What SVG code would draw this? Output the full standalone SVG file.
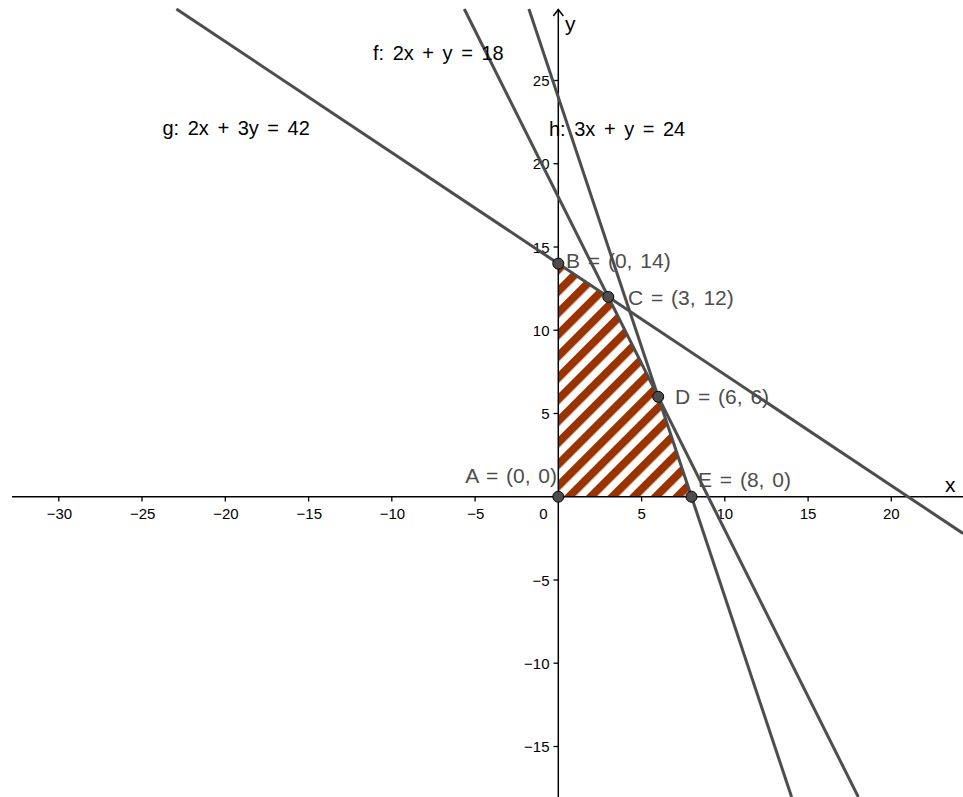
<svg xmlns="http://www.w3.org/2000/svg" width="963" height="797" viewBox="0 0 963 797">
<style>
.ax{stroke:#000;stroke-width:1.5;fill:none}
.tk{stroke:#000;stroke-width:1.3}
.tl{font-family:"Liberation Sans",Arial,sans-serif;font-size:15px;fill:#000}
.tlx{text-anchor:middle}
.tly{text-anchor:end}
.axl{font-family:"Liberation Sans",Arial,sans-serif;font-size:21px;fill:#000}
.ln{stroke:#4d4d4d;stroke-width:3;fill:none;stroke-linecap:butt}
.llab{font-family:"Liberation Sans",Arial,sans-serif;font-size:20px;fill:#000;word-spacing:3px}
.pt{fill:#4d4d4d;stroke:#000;stroke-width:1}
.plab{font-family:"Liberation Sans",Arial,sans-serif;font-size:21px;fill:#4d4d4d;word-spacing:2px}
</style>
<defs>
<pattern id="hatch" patternUnits="userSpaceOnUse" x="0" y="0" width="15.3" height="20" patternTransform="rotate(45)">
<rect x="0" y="0" width="8" height="20" fill="#993300"/>
</pattern>
</defs>
<rect width="963" height="797" fill="#fff"/>
<g id="region">
<polygon points="558.3,496.7 558.3,263.6 608.25,296.9 658.2,396.8 691.5,496.7" fill="url(#hatch)"/>
</g>
<g id="axes">
<line class="ax" x1="12" y1="496.7" x2="963" y2="496.7"/>
<line class="ax" x1="558.3" y1="9.5" x2="558.3" y2="797"/>
<polyline class="ax" points="553.3,16 558.3,9.5 563.3,16"/>
<g class="tk">
<line x1="58.8" y1="496.7" x2="58.8" y2="501.5"/>
<line x1="142" y1="496.7" x2="142" y2="501.5"/>
<line x1="225.3" y1="496.7" x2="225.3" y2="501.5"/>
<line x1="308.6" y1="496.7" x2="308.6" y2="501.5"/>
<line x1="391.8" y1="496.7" x2="391.8" y2="501.5"/>
<line x1="475.1" y1="496.7" x2="475.1" y2="501.5"/>
<line x1="641.6" y1="496.7" x2="641.6" y2="501.5"/>
<line x1="724.8" y1="496.7" x2="724.8" y2="501.5"/>
<line x1="808.1" y1="496.7" x2="808.1" y2="501.5"/>
<line x1="891.3" y1="496.7" x2="891.3" y2="501.5"/>
<line x1="553.5" y1="80.5" x2="558.3" y2="80.5"/>
<line x1="553.5" y1="163.7" x2="558.3" y2="163.7"/>
<line x1="553.5" y1="247" x2="558.3" y2="247"/>
<line x1="553.5" y1="330.2" x2="558.3" y2="330.2"/>
<line x1="553.5" y1="413.5" x2="558.3" y2="413.5"/>
<line x1="553.5" y1="580" x2="558.3" y2="580"/>
<line x1="553.5" y1="663.2" x2="558.3" y2="663.2"/>
<line x1="553.5" y1="746.5" x2="558.3" y2="746.5"/>
</g>
<g class="tl tlx">
<text x="59.5" y="519">−30</text>
<text x="142.7" y="519">−25</text>
<text x="226" y="519">−20</text>
<text x="309.3" y="519">−15</text>
<text x="392.5" y="519">−10</text>
<text x="475.8" y="519">−5</text>
<text x="543.5" y="519">0</text>
<text x="641.6" y="519">5</text>
<text x="724.8" y="519">10</text>
<text x="808.1" y="519">15</text>
<text x="891.3" y="519">20</text>
</g>
<g class="tl tly">
<text x="549.5" y="86">25</text>
<text x="549.5" y="169.2">20</text>
<text x="549.5" y="252.5">15</text>
<text x="549.5" y="335.7">10</text>
<text x="549.5" y="419">5</text>
<text x="549.5" y="585.5">−5</text>
<text x="549.5" y="668.7">−10</text>
<text x="549.5" y="752">−15</text>
</g>
<text class="axl" x="945" y="492">x</text>
<text class="axl" x="565" y="31">y</text>
</g>
<g id="connectors">
<line id="g" class="ln" x1="176.4" y1="9" x2="963" y2="533.4"/>
<line id="f" class="ln" x1="464.3" y1="9" x2="858.3" y2="797"/>
<line id="h" class="ln" x1="528.9" y1="9" x2="791.6" y2="797"/>
</g>
<g id="line-labels">
<text class="llab" x="373" y="60">f: 2x + y = 18</text>
<text class="llab" x="162.5" y="135">g: 2x + 3y = 42</text>
<text class="llab" x="549" y="136">h: 3x + y = 24</text>
</g>
<g id="A"><circle class="pt" cx="558.3" cy="496.7" r="5.5"/><text class="plab" x="557" y="483" text-anchor="end">A = (0, 0)</text></g>
<g id="B"><circle class="pt" cx="558.3" cy="263.6" r="5.5"/><text class="plab" x="566" y="268">B = (0, 14)</text></g>
<g id="C"><circle class="pt" cx="608.25" cy="296.9" r="5.5"/><text class="plab" x="628" y="305">C = (3, 12)</text></g>
<g id="D"><circle class="pt" cx="658.2" cy="396.8" r="5.5"/><text class="plab" x="675" y="404">D = (6, 6)</text></g>
<g id="E"><circle class="pt" cx="691.5" cy="496.7" r="5.5"/><text class="plab" x="698" y="487">E = (8, 0)</text></g>
</svg>
